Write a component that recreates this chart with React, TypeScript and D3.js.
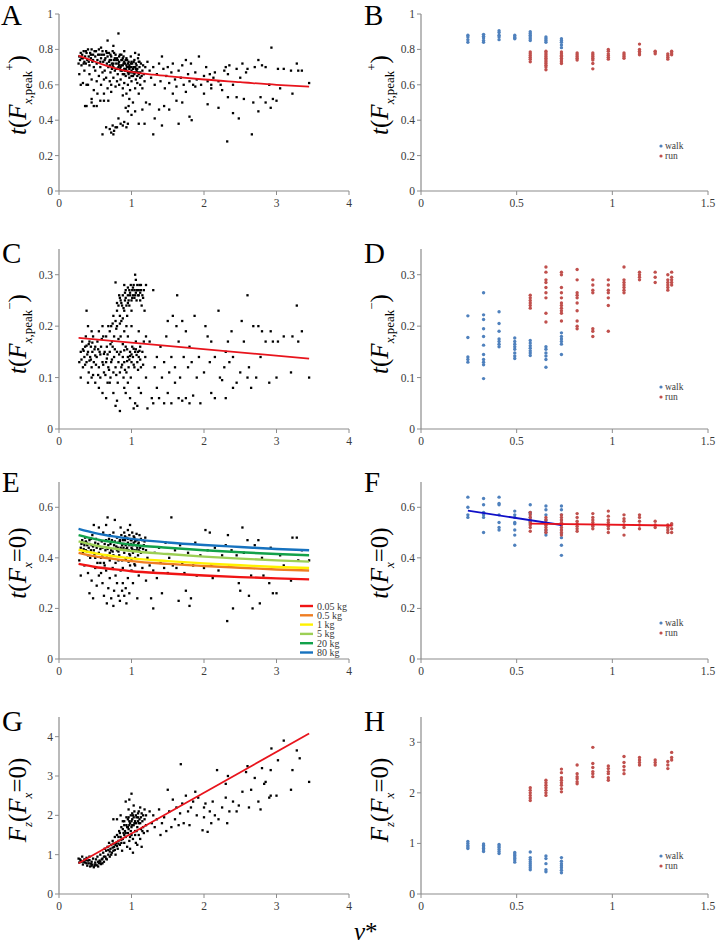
import React from "react";
import * as d3 from "d3";

const FONT = "'Liberation Serif', 'Times New Roman', serif";

const LEFT_X_TICKS = [0, 1, 2, 3, 4];
const RIGHT_X_TICKS = [0, 0.5, 1, 1.5];
const TICKS_AB = [0, 0.2, 0.4, 0.6, 0.8, 1];
const TICKS_CD = [0, 0.1, 0.2, 0.3];
const TICKS_EF = [0, 0.2, 0.4, 0.6];
const TICKS_G = [0, 1, 2, 3, 4];
const TICKS_H = [0, 1, 2, 3];

const WALK_SPEEDS = [0.245, 0.327, 0.408, 0.49, 0.571, 0.653, 0.734];
const RUN_SPEEDS = [0.571, 0.653, 0.734, 0.816, 0.898, 0.979, 1.061, 1.142, 1.224, 1.29, 1.31];

// ---- panel A points (x, y pairs)
const A_PTS = [
0.27,0.72,0.28,0.76,0.29,0.74,0.3,0.78,0.31,0.71,0.32,0.77,0.33,0.75,0.34,0.79,0.35,0.73,0.36,0.76,0.37,0.72,0.38,0.78,0.39,0.74,0.4,0.8,0.41,0.76,0.42,0.71,0.43,0.78,0.44,0.75,0.45,0.8,0.46,0.73,0.47,0.77,0.48,0.7,0.5,0.76,0.51,0.79,0.52,0.72,0.53,0.74,0.55,0.8,0.56,0.77,0.57,0.7,0.58,0.75,0.6,0.79,0.61,0.73,0.62,0.77,0.63,0.68,0.64,0.75,0.65,0.79,0.66,0.72,0.67,0.76,0.68,0.7,0.69,0.78,0.7,0.74,0.71,0.67,0.72,0.76,0.73,0.72,0.74,0.79,0.75,0.7,0.76,0.74,0.77,0.68,0.78,0.77,0.79,0.72,0.8,0.75,0.81,0.66,0.82,0.7,0.83,0.73,0.84,0.77,0.85,0.68,0.86,0.71,0.87,0.74,0.88,0.66,0.89,0.76,0.9,0.69,0.91,0.72,0.92,0.65,0.93,0.75,0.94,0.7,0.95,0.67,0.96,0.73,0.97,0.64,0.98,0.7,0.99,0.76,1.0,0.68,1.01,0.72,1.02,0.65,1.03,0.7,1.04,0.74,1.05,0.67,1.06,0.63,1.07,0.71,1.08,0.69,1.09,0.75,1.1,0.66,1.11,0.7,1.12,0.64,1.13,0.72,1.15,0.68,1.17,0.66,1.19,0.7,
0.72,0.74,0.74,0.71,0.77,0.75,0.8,0.69,0.83,0.76,0.86,0.74,0.88,0.71,0.9,0.73,0.92,0.69,0.94,0.74,0.96,0.7,0.98,0.67,1.0,0.73,1.02,0.69,1.04,0.66,1.06,0.72,1.08,0.65,1.1,0.73,0.82,0.72,0.85,0.7,0.87,0.68,0.9,0.66,0.93,0.68,0.95,0.72,0.97,0.69,1.0,0.65,1.03,0.67,1.05,0.7,1.07,0.68,1.12,0.67,
0.31,0.75,0.34,0.72,0.37,0.79,0.41,0.73,0.44,0.77,0.47,0.74,0.49,0.79,0.54,0.77,0.57,0.73,0.59,0.77,0.63,0.74,0.66,0.78,0.69,0.73,0.71,0.77,0.73,0.69,0.76,0.78,0.79,0.69,0.81,0.74,0.84,0.69,0.86,0.77,0.89,0.72,0.91,0.68,0.93,0.71,0.96,0.66,0.99,0.72,1.01,0.67,1.03,0.73,1.06,0.69,1.09,0.67,1.11,0.73,1.14,0.65,1.16,0.71,0.88,0.75,0.92,0.74,0.97,0.71,1.0,0.7,0.83,0.71,0.79,0.74,0.75,0.72,0.7,0.71,
0.28,0.66,0.3,0.6,0.35,0.68,0.4,0.6,0.42,0.66,0.45,0.63,0.5,0.68,0.52,0.62,0.55,0.65,0.58,0.6,0.6,0.67,0.62,0.63,0.65,0.64,0.67,0.58,0.7,0.62,0.72,0.6,0.75,0.64,0.78,0.59,0.8,0.62,0.83,0.6,0.85,0.63,0.88,0.58,0.9,0.61,0.93,0.55,0.95,0.6,0.98,0.57,1.0,0.62,1.02,0.5,1.05,0.58,1.08,0.61,1.1,0.55,1.12,0.6,1.15,0.58,1.18,0.62,0.48,0.57,0.53,0.55,0.57,0.51,0.62,0.55,0.68,0.51,0.72,0.56,0.38,0.48,0.45,0.52,0.52,0.48,0.88,0.54,0.92,0.47,0.95,0.45,0.97,0.52,1.0,0.43,1.05,0.45,0.96,0.48,
0.6,0.32,0.65,0.36,0.7,0.35,0.72,0.33,0.74,0.37,0.76,0.34,0.78,0.36,0.82,0.41,0.85,0.38,0.88,0.37,0.9,0.39,0.93,0.36,0.95,0.38,0.75,0.32,0.8,0.36,
0.82,0.89,0.67,0.85,0.75,0.82,0.58,0.81,0.9,0.79,1.05,0.78,1.1,0.77,
1.22,0.73,1.25,0.68,1.27,0.64,1.3,0.7,1.32,0.6,1.35,0.66,1.38,0.72,1.4,0.62,1.42,0.76,1.44,0.69,1.46,0.58,1.48,0.65,1.5,0.7,1.52,0.61,1.55,0.67,1.57,0.72,1.6,0.63,1.62,0.59,1.65,0.68,1.68,0.64,1.7,0.71,1.72,0.6,1.75,0.74,1.78,0.66,1.8,0.62,1.82,0.72,1.85,0.6,1.88,0.67,1.9,0.63,1.93,0.76,1.96,0.6,2.0,0.65,2.03,0.7,2.05,0.62,2.08,0.66,2.1,0.6,2.13,0.64,2.15,0.67,2.2,0.62,2.23,0.6,2.28,0.68,2.3,0.7,2.33,0.66,2.35,0.71,2.4,0.6,2.45,0.69,2.5,0.64,2.53,0.72,2.58,0.67,2.6,0.69,2.7,0.7,2.75,0.74,2.8,0.71,2.85,0.7,2.9,0.6,2.93,0.81,3.02,0.69,3.1,0.69,3.2,0.68,3.28,0.72,3.3,0.68,3.35,0.68,3.45,0.61,
1.25,0.49,1.32,0.41,1.3,0.32,1.38,0.46,1.42,0.37,1.45,0.48,1.52,0.46,1.57,0.55,1.62,0.51,1.65,0.38,1.7,0.5,1.75,0.56,1.8,0.42,1.83,0.4,1.88,0.59,2.0,0.55,2.05,0.49,2.1,0.58,2.2,0.47,2.25,0.57,2.32,0.28,2.33,0.53,2.4,0.44,2.45,0.53,2.48,0.41,2.55,0.52,2.66,0.32,2.68,0.5,2.75,0.45,2.78,0.53,2.85,0.5,2.92,0.47,2.95,0.52,3.0,0.51,3.05,0.58,3.22,0.55,1.2,0.5,1.15,0.46,1.1,0.38,1.18,0.38,0.33,0.61,0.36,0.48,0.45,0.5,0.48,0.48,0.62,0.51,0.38,0.6
];

// ---- panel C points
const C_PTS = [
0.72,0.2,0.75,0.22,0.78,0.21,0.8,0.23,0.82,0.24,0.84,0.22,0.85,0.25,0.87,0.24,0.88,0.26,0.9,0.23,0.91,0.25,0.92,0.27,0.93,0.24,0.95,0.26,0.96,0.25,0.97,0.27,0.98,0.26,0.99,0.28,1.0,0.25,1.01,0.27,1.02,0.26,1.03,0.28,1.04,0.27,1.05,0.26,1.06,0.29,1.07,0.27,1.08,0.28,1.09,0.26,1.1,0.27,1.11,0.28,1.12,0.25,1.13,0.27,1.15,0.26,1.17,0.27,1.2,0.28,0.78,0.285,1.05,0.3,0.83,0.26,0.86,0.21,0.8,0.2,0.94,0.22,0.97,0.24,1.0,0.23,1.07,0.25,1.14,0.24,0.76,0.18,0.7,0.19,0.73,0.17,0.68,0.2,0.65,0.18,0.9,0.28,1.18,0.23,0.93,0.2,
0.98,0.265,1.02,0.275,1.04,0.255,1.06,0.265,1.08,0.27,1.1,0.26,0.95,0.245,0.92,0.255,0.89,0.235,0.86,0.245,1.13,0.28,1.01,0.255,
0.79,0.195,0.74,0.205,0.84,0.205,0.88,0.215,0.8,0.245,0.84,0.255,0.91,0.265,0.95,0.275,1.12,0.265,1.16,0.255,0.82,0.175,
0.28,0.13,0.3,0.15,0.3,0.1,0.32,0.17,0.33,0.12,0.35,0.14,0.36,0.16,0.37,0.18,0.38,0.13,0.4,0.15,0.4,0.2,0.41,0.11,0.42,0.17,0.43,0.14,0.44,0.16,0.45,0.12,0.46,0.15,0.47,0.18,0.48,0.13,0.5,0.16,0.5,0.09,0.52,0.14,0.53,0.17,0.55,0.12,0.56,0.15,0.57,0.1,0.58,0.16,0.6,0.13,0.61,0.18,0.62,0.11,0.63,0.15,0.65,0.13,0.66,0.16,0.67,0.09,0.68,0.12,0.7,0.15,0.71,0.1,0.72,0.13,0.74,0.16,0.75,0.11,0.76,0.14,0.78,0.12,0.8,0.15,0.81,0.09,0.82,0.13,0.84,0.11,0.85,0.15,0.86,0.12,0.88,0.14,0.89,0.1,0.9,0.13,0.92,0.16,0.93,0.11,0.95,0.14,0.96,0.12,0.98,0.15,0.99,0.1,1.0,0.13,1.01,0.16,1.02,0.14,1.04,0.12,1.05,0.15,1.06,0.17,1.08,0.13,1.09,0.15,1.1,0.14,1.12,0.16,1.13,0.12,1.15,0.15,1.17,0.17,1.19,0.14,1.2,0.18,0.9,0.19,0.95,0.18,1.0,0.2,0.85,0.18,1.1,0.19,0.38,0.23,0.45,0.19,0.55,0.19,0.6,0.2,
0.34,0.152,0.38,0.162,0.42,0.133,0.46,0.168,0.5,0.143,0.54,0.155,0.62,0.146,0.66,0.137,0.9,0.153,0.94,0.132,0.98,0.142,1.03,0.156,1.07,0.144,1.11,0.152,
0.31,0.135,0.33,0.155,0.36,0.125,0.39,0.145,0.41,0.165,0.44,0.135,0.47,0.105,0.49,0.155,0.51,0.125,0.54,0.105,0.57,0.145,0.59,0.175,0.61,0.125,0.64,0.105,0.67,0.145,0.69,0.115,0.71,0.165,0.73,0.135,0.77,0.155,0.79,0.105,0.83,0.145,0.87,0.125,0.91,0.115,0.94,0.155,0.97,0.135,1.0,0.145,1.03,0.125,1.06,0.155,1.09,0.115,1.12,0.135,1.16,0.125,0.88,0.165,
0.4,0.09,0.45,0.1,0.55,0.08,0.6,0.07,0.65,0.06,0.7,0.09,0.75,0.07,0.78,0.045,0.8,0.055,0.84,0.035,0.9,0.08,0.92,0.07,0.95,0.09,0.98,0.06,1.03,0.04,1.05,0.05,1.08,0.045,1.1,0.08,1.13,0.07,1.2,0.1,1.22,0.04,1.28,0.06,1.3,0.05,1.35,0.08,1.38,0.06,1.45,0.05,1.5,0.07,1.55,0.05,1.6,0.09,1.65,0.06,1.7,0.055,1.75,0.06,1.8,0.05,1.85,0.065,1.95,0.05,2.1,0.07,2.15,0.06,2.3,0.06,2.25,0.095,
1.25,0.17,1.3,0.27,1.32,0.12,1.35,0.14,1.4,0.16,1.42,0.1,1.45,0.13,1.48,0.18,1.5,0.21,1.52,0.11,1.55,0.14,1.57,0.22,1.6,0.12,1.62,0.2,1.63,0.26,1.65,0.17,1.67,0.1,1.7,0.21,1.72,0.14,1.75,0.19,1.78,0.12,1.8,0.16,1.83,0.13,1.87,0.22,1.9,0.1,1.93,0.14,2.0,0.11,2.02,0.2,2.05,0.18,2.08,0.13,2.1,0.17,2.15,0.14,2.2,0.23,2.22,0.1,2.28,0.12,2.3,0.15,2.33,0.17,2.38,0.19,2.4,0.14,2.45,0.09,2.5,0.11,2.52,0.21,2.55,0.17,2.6,0.26,2.62,0.12,2.65,0.08,2.68,0.2,2.72,0.1,2.75,0.2,2.78,0.14,2.8,0.19,2.85,0.17,2.9,0.09,2.92,0.19,2.95,0.17,3.0,0.1,3.02,0.17,3.1,0.18,3.2,0.11,3.22,0.18,3.28,0.24,3.3,0.17,3.35,0.19,3.45,0.1,2.4,0.08,2.35,0.13,2.6,0.1
];

// ---- panel E points
const E_PTS = [
0.3,0.44,0.32,0.47,0.33,0.42,0.35,0.45,0.36,0.48,0.37,0.43,0.38,0.46,0.4,0.41,0.41,0.44,0.42,0.47,0.43,0.4,0.45,0.45,0.46,0.49,0.48,0.43,0.5,0.46,0.5,0.4,0.52,0.44,0.53,0.38,0.55,0.42,0.56,0.47,0.58,0.4,0.6,0.44,0.61,0.5,0.62,0.38,0.64,0.43,0.65,0.47,0.66,0.41,0.68,0.45,0.7,0.39,0.7,0.49,0.72,0.43,0.73,0.47,0.75,0.41,0.76,0.45,0.78,0.38,0.8,0.43,0.8,0.48,0.82,0.46,0.83,0.41,0.85,0.44,0.86,0.49,0.87,0.39,0.88,0.47,0.9,0.42,0.9,0.5,0.92,0.45,0.93,0.48,0.94,0.4,0.95,0.46,0.96,0.43,0.97,0.49,0.98,0.41,0.99,0.47,1.0,0.44,1.01,0.5,1.02,0.42,1.03,0.46,1.04,0.48,1.05,0.4,1.06,0.45,1.07,0.43,1.08,0.47,1.09,0.41,1.1,0.46,1.11,0.49,1.12,0.44,1.13,0.42,1.15,0.47,1.17,0.45,1.19,0.48,1.2,0.43,0.95,0.51,0.85,0.52,0.75,0.5,0.65,0.53,0.77,0.55,0.67,0.56,0.55,0.52,0.48,0.53,0.98,0.53,
0.34,0.46,0.39,0.45,0.44,0.43,0.87,0.45,0.89,0.44,0.91,0.47,0.94,0.44,0.97,0.45,1.0,0.47,1.02,0.45,1.04,0.43,1.06,0.47,1.08,0.44,1.1,0.43,0.84,0.47,0.81,0.44,
0.31,0.455,0.34,0.435,0.37,0.465,0.39,0.425,0.42,0.455,0.44,0.475,0.47,0.445,0.49,0.415,0.51,0.475,0.54,0.455,0.57,0.435,0.59,0.465,0.63,0.455,0.67,0.435,0.69,0.475,0.71,0.455,0.74,0.425,0.77,0.465,0.79,0.445,0.82,0.425,0.84,0.465,0.86,0.435,0.89,0.455,0.91,0.485,0.93,0.435,0.95,0.475,0.97,0.415,0.99,0.455,1.01,0.435,1.03,0.485,1.05,0.465,1.07,0.495,1.09,0.455,1.11,0.425,1.13,0.475,1.16,0.435,1.18,0.465,0.92,0.395,0.96,0.385,1.0,0.39,1.04,0.375,0.82,0.39,0.7,0.42,0.6,0.41,
0.28,0.39,0.3,0.33,0.35,0.37,0.4,0.34,0.42,0.26,0.45,0.31,0.47,0.24,0.5,0.36,0.52,0.29,0.55,0.33,0.57,0.38,0.6,0.3,0.62,0.25,0.65,0.35,0.66,0.22,0.68,0.28,0.7,0.32,0.72,0.24,0.74,0.36,0.75,0.21,0.76,0.27,0.78,0.33,0.8,0.3,0.82,0.25,0.84,0.23,0.85,0.35,0.87,0.27,0.88,0.3,0.9,0.25,0.92,0.28,0.93,0.22,0.95,0.32,0.97,0.26,1.0,0.35,1.02,0.3,1.05,0.37,1.08,0.24,1.1,0.33,1.15,0.36,1.2,0.31,0.58,0.34,0.63,0.37,0.88,0.36,0.98,0.37,
1.22,0.4,1.25,0.37,1.27,0.24,1.3,0.35,1.3,0.2,1.32,0.42,1.35,0.32,1.38,0.44,1.4,0.38,1.42,0.26,1.45,0.36,1.47,0.46,1.5,0.34,1.52,0.4,1.55,0.56,1.57,0.37,1.6,0.43,1.62,0.36,1.65,0.23,1.67,0.45,1.7,0.38,1.73,0.34,1.75,0.27,1.78,0.42,1.8,0.21,1.82,0.24,1.85,0.37,1.88,0.46,1.9,0.33,1.95,0.41,2.0,0.36,2.02,0.51,2.05,0.43,2.08,0.5,2.1,0.37,2.12,0.32,2.15,0.44,2.2,0.35,2.25,0.41,2.3,0.45,2.32,0.15,2.33,0.49,2.35,0.37,2.38,0.43,2.4,0.2,2.45,0.41,2.48,0.3,2.5,0.27,2.53,0.52,2.55,0.42,2.6,0.47,2.62,0.25,2.65,0.33,2.67,0.2,2.7,0.45,2.75,0.47,2.77,0.22,2.8,0.4,2.82,0.33,2.9,0.3,2.92,0.44,2.95,0.26,3.0,0.26,3.05,0.41,3.1,0.37,3.2,0.31,3.22,0.48,3.28,0.48,3.3,0.39,3.35,0.43,3.45,0.39
];

// ---- panel G points
const G_PTS = [
0.27,0.9,0.28,0.8,0.3,0.85,0.32,0.95,0.33,0.75,0.35,0.88,0.36,0.8,0.38,0.92,0.39,0.72,0.4,0.85,0.41,0.78,0.42,0.95,0.43,0.7,0.45,0.82,0.46,0.75,0.47,0.9,0.48,0.68,0.5,0.8,0.51,0.88,0.52,0.73,0.53,0.95,0.55,0.78,0.56,0.85,0.57,1.0,0.58,0.76,0.6,0.9,0.61,1.05,0.62,0.82,0.63,1.15,0.64,0.95,0.65,1.1,0.66,0.88,0.67,1.2,0.68,1.0,0.69,1.3,0.7,0.95,0.71,1.15,0.72,1.25,0.73,1.05,0.74,1.35,0.75,1.1,0.76,1.2,0.77,1.45,0.78,1.0,0.79,1.3,0.8,1.5,0.81,1.15,0.82,1.35,0.83,1.6,0.84,1.25,0.85,1.45,0.86,1.7,0.87,1.1,0.88,1.4,0.89,1.55,0.9,1.85,0.9,1.3,0.91,1.6,0.92,1.45,0.93,1.75,0.94,1.2,0.95,1.9,0.95,1.55,0.96,1.65,0.97,1.35,0.98,1.8,0.99,2.0,1.0,1.5,1.0,1.7,1.01,1.9,1.02,1.4,1.03,1.75,1.04,2.1,1.05,1.6,1.05,1.85,1.06,1.3,1.07,1.95,1.08,1.7,1.09,2.05,1.1,1.5,1.1,1.8,1.11,1.9,1.12,2.2,1.13,1.65,1.14,1.2,1.15,1.85,1.16,2.0,1.17,1.55,1.18,2.15,1.2,1.75,1.2,2.0,0.92,2.35,0.97,2.4,1.0,2.55,0.75,1.9,0.8,1.9,0.85,2.0,1.02,1.05,0.98,1.15,1.08,1.25,1.12,1.4,
0.31,0.82,0.37,0.86,0.44,0.77,0.49,0.72,0.54,0.82,0.59,0.88,0.74,1.18,0.78,1.25,0.82,1.28,0.86,1.38,0.9,1.5,0.94,1.7,0.97,1.75,1.0,1.85,1.03,1.95,1.06,1.8,1.09,1.85,1.13,1.95,0.96,1.95,1.01,2.05,
0.29,0.88,0.34,0.82,0.38,0.78,0.42,0.86,0.45,0.72,0.5,0.75,0.54,0.7,0.57,0.82,0.6,0.78,0.62,0.95,0.65,0.9,0.68,1.12,0.7,1.08,0.72,1.0,0.75,1.28,0.77,1.12,0.8,1.22,0.82,1.45,0.84,1.55,0.86,1.3,0.88,1.65,0.9,1.75,0.92,1.55,0.93,1.95,0.95,1.7,0.97,1.85,0.99,1.6,1.01,1.75,1.02,2.0,1.04,1.8,1.06,2.0,1.07,1.6,1.09,1.95,1.1,2.1,1.12,1.8,1.14,2.05,1.16,1.7,1.18,1.9,0.96,2.15,1.03,2.25,0.88,1.85,0.98,1.45,1.05,1.5,1.15,1.6,
1.22,1.6,1.25,2.1,1.28,1.8,1.3,2.0,1.32,1.7,1.35,1.9,1.38,2.15,1.4,1.5,1.42,1.8,1.45,1.95,1.48,1.6,1.5,2.65,1.52,2.1,1.55,1.7,1.57,2.4,1.6,1.9,1.62,2.2,1.65,1.75,1.67,2.05,1.68,3.3,1.7,2.3,1.72,1.8,1.75,2.5,1.78,2.1,1.8,1.75,1.82,2.2,1.85,2.35,1.88,2.6,1.9,2.0,1.92,2.45,1.98,1.62,2.0,2.2,2.02,2.3,2.05,1.58,2.08,2.1,2.1,1.8,2.12,2.35,2.15,2.0,2.18,3.15,2.2,1.9,2.25,2.2,2.3,2.45,2.32,1.8,2.33,3.0,2.35,2.1,2.4,2.35,2.45,2.1,2.48,2.25,2.53,2.6,2.58,3.1,2.6,3.25,2.62,2.2,2.65,2.65,2.7,2.95,2.75,2.35,2.78,2.15,2.8,3.2,2.83,2.8,2.85,2.85,2.92,3.15,2.93,3.7,2.92,2.5,3.0,2.5,3.02,3.4,3.1,3.9,3.2,2.65,3.22,3.15,3.28,3.65,3.32,3.45,3.45,2.85,2.9,2.45,2.3,2.8,2.0,1.95
];

// ---- right panels: y values per speed column
const B_WALK = [[0.84,0.855,0.87,0.88],[0.84,0.85,0.865,0.875,0.885],[0.855,0.87,0.88,0.895,0.905],[0.86,0.865,0.87,0.88],[0.85,0.86,0.87,0.88,0.89,0.9],[0.84,0.85,0.86,0.87],[0.81,0.825,0.84,0.85,0.86]];
const B_RUN = [[0.73,0.745,0.755,0.765,0.775,0.785],[0.685,0.7,0.71,0.72,0.73,0.74,0.75,0.76,0.77,0.78,0.79],[0.72,0.73,0.74,0.75,0.76,0.765,0.775,0.785],[0.74,0.75,0.76,0.77,0.78],[0.69,0.72,0.74,0.75,0.76,0.77,0.78],[0.745,0.755,0.765,0.775,0.79,0.8],[0.75,0.76,0.77,0.78],[0.77,0.78,0.79,0.8,0.83],[0.775,0.785,0.79],[0.745,0.755,0.765,0.775],[0.77,0.78,0.79]];
const D_WALK = [[0.13,0.135,0.14,0.178,0.22],[0.098,0.125,0.13,0.135,0.145,0.163,0.18,0.195,0.213,0.222,0.265],[0.16,0.165,0.17,0.175,0.19,0.205,0.228],[0.137,0.142,0.148,0.155,0.16,0.165,0.17,0.177],[0.143,0.148,0.152,0.157,0.162,0.167,0.172],[0.12,0.135,0.142,0.148,0.155,0.16],[0.145,0.165,0.17,0.175,0.18,0.187]];
const D_RUN = [[0.235,0.24,0.245,0.25,0.255,0.26],[0.208,0.225,0.255,0.265,0.275,0.285,0.29,0.305,0.315],[0.21,0.225,0.23,0.235,0.24,0.245,0.255,0.265,0.275,0.3,0.305],[0.195,0.2,0.21,0.23,0.245,0.255,0.26,0.265,0.29,0.31],[0.18,0.19,0.195,0.265,0.27,0.28,0.29],[0.19,0.24,0.255,0.265,0.27,0.28,0.29],[0.265,0.27,0.275,0.28,0.285,0.29,0.315],[0.29,0.295,0.3,0.305],[0.285,0.295,0.305],[0.27,0.275,0.28,0.285,0.29,0.3],[0.28,0.285,0.29,0.295,0.305]];
const F_WALK = [[0.56,0.57,0.6,0.64],[0.5,0.56,0.57,0.58,0.61,0.635],[0.51,0.52,0.54,0.57,0.61,0.615,0.64],[0.45,0.49,0.51,0.535,0.54,0.56,0.57,0.585],[0.535,0.545,0.56,0.575,0.58,0.61],[0.49,0.5,0.51,0.53,0.55,0.57,0.59,0.605],[0.41,0.45,0.48,0.495,0.51,0.53,0.55,0.57,0.59,0.605]];
const F_RUN = [[0.505,0.52,0.53,0.54,0.55,0.56,0.57,0.58],[0.5,0.51,0.52,0.53,0.54,0.55,0.56],[0.49,0.5,0.51,0.52,0.53,0.535,0.54,0.55,0.56,0.57],[0.505,0.515,0.525,0.535,0.545,0.56,0.575],[0.515,0.525,0.53,0.54,0.55,0.56,0.575],[0.5,0.515,0.525,0.53,0.54,0.55,0.565,0.585],[0.49,0.52,0.53,0.545,0.555,0.57],[0.515,0.53,0.545,0.56,0.57],[0.52,0.53,0.545],[0.5,0.51,0.52,0.53],[0.5,0.515,0.53,0.535]];
const H_WALK = [[0.9,0.93,0.96,1.0,1.04],[0.84,0.87,0.9,0.93,0.96,0.99],[0.8,0.84,0.88,0.92,0.95,0.98],[0.63,0.67,0.7,0.73,0.76,0.79,0.82],[0.48,0.52,0.56,0.6,0.64,0.68,0.72,0.83],[0.44,0.48,0.6,0.7,0.75],[0.42,0.47,0.52,0.56,0.6,0.65,0.72]];
const H_RUN = [[1.85,1.9,1.95,2.0,2.05,2.1],[1.95,2.0,2.05,2.1,2.15,2.2,2.25],[2.02,2.08,2.15,2.2,2.25,2.3,2.4,2.47],[2.18,2.22,2.28,2.32,2.38,2.55],[2.32,2.38,2.42,2.5,2.58,2.9],[2.25,2.3,2.38,2.42,2.48,2.53],[2.38,2.45,2.52,2.6,2.72],[2.55,2.6,2.65,2.7],[2.55,2.6,2.65],[2.48,2.55,2.62],[2.65,2.7,2.8]];

// ---- fitted curves
const A_FIT = [[0.27,0.765],[0.4,0.745],[0.6,0.715],[0.8,0.69],[1.0,0.673],[1.3,0.657],[1.6,0.645],[2.0,0.63],[2.5,0.615],[3.0,0.6],[3.45,0.59]];
const C_FIT = [[0.27,0.177],[3.45,0.137]];
const E_FIT_X = [0.27,0.5,0.75,1,1.5,2,2.5,3,3.45];
const E_FIT_005 = [0.376,0.364,0.355,0.347,0.338,0.330,0.324,0.319,0.315];
const E_FIT_05 = [0.42,0.406,0.396,0.387,0.376,0.368,0.361,0.354,0.35];
const E_FIT_1 = [0.432,0.418,0.407,0.398,0.387,0.378,0.371,0.364,0.36];
const E_FIT_5 = [0.465,0.449,0.437,0.427,0.415,0.405,0.397,0.39,0.385];
const E_FIT_20 = [0.49,0.474,0.462,0.452,0.44,0.43,0.422,0.415,0.41];
const E_FIT_80 = [0.515,0.498,0.485,0.475,0.461,0.451,0.443,0.435,0.43];
const E_LABELS = ["0.05 kg", "0.5 kg", "1 kg", "5 kg", "20 kg", "80 kg"];
const E_COLORS = ["#f01414", "#ef7d22", "#fff100", "#9ccf55", "#12a14a", "#1672bf"];
const F_WALK_FIT = [[0.245,0.587],[0.734,0.53]];
const F_RUN_FIT = [[0.571,0.535],[1.31,0.528]];
const G_FIT = [[0.27,0.78],[3.45,4.08]];

const WALK_COLOR = "#4f81bd";
const RUN_COLOR = "#c0504d";
const AXIS_COLOR = "#8c8c8c";
const TEXT_COLOR = "#3a3a3a";

function pairs(flat: number[]): [number, number][] {
  const out: [number, number][] = [];
  for (let i = 0; i + 1 < flat.length; i += 2) out.push([flat[i], flat[i + 1]]);
  return out;
}

type Scale = d3.ScaleLinear<number, number>;

function Axes({ xs, ys, xTicks, yTicks }: { xs: Scale; ys: Scale; xTicks: number[]; yTicks: number[] }) {
  const [x0, x1] = xs.range();
  const [yb, yt] = ys.range();
  return (
    <g fontFamily={FONT} fontSize={11.5} fill={TEXT_COLOR}>
      <line x1={x0} x2={x1} y1={yb} y2={yb} stroke={AXIS_COLOR} strokeWidth={1.2} />
      <line x1={x0} x2={x0} y1={yb} y2={yt} stroke={AXIS_COLOR} strokeWidth={1.2} />
      {xTicks.map((t) => (
        <g key={"x" + t}>
          <line x1={xs(t)} x2={xs(t)} y1={yb} y2={yb + 4} stroke={AXIS_COLOR} />
          <text x={xs(t)} y={yb + 16} textAnchor="middle">{String(t)}</text>
        </g>
      ))}
      {yTicks.map((t) => (
        <g key={"y" + t}>
          <line x1={x0 - 4} x2={x0} y1={ys(t)} y2={ys(t)} stroke={AXIS_COLOR} />
          <text x={x0 - 6} y={ys(t) + 4} textAnchor="end">{String(t)}</text>
        </g>
      ))}
    </g>
  );
}

function Dots({ xs, ys, pts }: { xs: Scale; ys: Scale; pts: [number, number][] }) {
  return (
    <g fill="#000">
      {pts.map((p, i) => (
        <rect key={i} x={xs(p[0]) - 1.15} y={ys(p[1]) - 1.15} width={2.3} height={2.3} />
      ))}
    </g>
  );
}

function Columns({ xs, ys, speeds, cols, color }: { xs: Scale; ys: Scale; speeds: number[]; cols: number[][]; color: string }) {
  return (
    <g fill={color}>
      {cols.map((col, i) =>
        col.map((v, j) => <circle key={i + "-" + j} cx={xs(speeds[i])} cy={ys(v)} r={1.7} />)
      )}
    </g>
  );
}

function FitLine({ xs, ys, pts, color, width = 2 }: { xs: Scale; ys: Scale; pts: number[][]; color: string; width?: number }) {
  const gen = d3
    .line<number[]>()
    .x((d) => xs(d[0]))
    .y((d) => ys(d[1]))
    .curve(d3.curveMonotoneX);
  return <path d={gen(pts) || ""} fill="none" stroke={color} strokeWidth={width} />;
}

function GaitLegend({ x, y }: { x: number; y: number }) {
  return (
    <g fontFamily={FONT} fontSize={9.5} fill={TEXT_COLOR}>
      <circle cx={x} cy={y} r={1.6} fill={WALK_COLOR} />
      <text x={x + 4} y={y + 3}>walk</text>
      <circle cx={x} cy={y + 10} r={1.6} fill={RUN_COLOR} />
      <text x={x + 4} y={y + 13}>run</text>
    </g>
  );
}

function PanelLetter({ x, y, t }: { x: number; y: number; t: string }) {
  return (
    <text x={x} y={y} fontFamily={FONT} fontSize={29} fill="#000">{t}</text>
  );
}

function YTitle({ x, y, kind }: { x: number; y: number; kind: "peakPlus" | "peakMinus" | "tzero" | "fz" }) {
  const common = { fontFamily: FONT, fontSize: 25, fill: "#000", textAnchor: "middle" as const };
  let content: React.ReactNode = null;
  if (kind === "peakPlus" || kind === "peakMinus") {
    content = (
      <>
        <tspan fontStyle="italic">t</tspan>
        <tspan>(</tspan>
        <tspan fontStyle="italic">F</tspan>
        <tspan fontSize={13} dy={6} fontStyle="italic">x</tspan>
        <tspan fontSize={13}>,peak</tspan>
        <tspan fontSize={13} dy={-18}>{kind === "peakPlus" ? "+" : "\u2212"}</tspan>
        <tspan dy={12}>)</tspan>
      </>
    );
  } else if (kind === "tzero") {
    content = (
      <>
        <tspan fontStyle="italic">t</tspan>
        <tspan>(</tspan>
        <tspan fontStyle="italic">F</tspan>
        <tspan fontSize={13} dy={6} fontStyle="italic">x</tspan>
        <tspan dy={-6}>=0)</tspan>
      </>
    );
  } else {
    content = (
      <>
        <tspan fontStyle="italic">F</tspan>
        <tspan fontSize={13} dy={6} fontStyle="italic">z</tspan>
        <tspan dy={-6}>(</tspan>
        <tspan fontStyle="italic">F</tspan>
        <tspan fontSize={13} dy={6} fontStyle="italic">x</tspan>
        <tspan dy={-6}>=0)</tspan>
      </>
    );
  }
  return (
    <text transform={`translate(${x},${y}) rotate(-90)`} {...common}>
      {content}
    </text>
  );
}

export default function App() {
  const W = 716;
  const H = 944;
  const xL = d3.scaleLinear().domain([0, 4]).range([59, 349]);
  const xR = d3.scaleLinear().domain([0, 1.5]).range([421, 708]);
  const yAB = d3.scaleLinear().domain([0, 1]).range([191, 14]);
  const yCD = d3.scaleLinear().domain([0, 0.35]).range([429, 249]);
  const yEF = d3.scaleLinear().domain([0, 0.7]).range([659, 482]);
  const yG = d3.scaleLinear().domain([0, 4.5]).range([894, 717]);
  const yH = d3.scaleLinear().domain([0, 3.5]).range([894, 717]);

  const eFits = [E_FIT_005, E_FIT_05, E_FIT_1, E_FIT_5, E_FIT_20, E_FIT_80];

  return (
    <svg width={W} height={H} viewBox={`0 0 ${W} ${H}`} style={{ position: "absolute", left: 0, top: 0, background: "#fff" }}>
      <rect width={W} height={H} fill="#fff" />

      {/* A */}
      <PanelLetter x={1} y={25} t="A" />
      <YTitle x={26} y={95} kind="peakPlus" />
      <Axes xs={xL} ys={yAB} xTicks={LEFT_X_TICKS} yTicks={TICKS_AB} />
      <Dots xs={xL} ys={yAB} pts={pairs(A_PTS)} />
      <FitLine xs={xL} ys={yAB} pts={A_FIT} color="#e8141c" width={1.8} />

      {/* B */}
      <PanelLetter x={364} y={25} t="B" />
      <YTitle x={388} y={95} kind="peakPlus" />
      <Axes xs={xR} ys={yAB} xTicks={RIGHT_X_TICKS} yTicks={TICKS_AB} />
      <Columns xs={xR} ys={yAB} speeds={WALK_SPEEDS} cols={B_WALK} color={WALK_COLOR} />
      <Columns xs={xR} ys={yAB} speeds={RUN_SPEEDS} cols={B_RUN} color={RUN_COLOR} />
      <GaitLegend x={661} y={146} />

      {/* C */}
      <PanelLetter x={2} y={263} t="C" />
      <YTitle x={26} y={334} kind="peakMinus" />
      <Axes xs={xL} ys={yCD} xTicks={LEFT_X_TICKS} yTicks={TICKS_CD} />
      <Dots xs={xL} ys={yCD} pts={pairs(C_PTS)} />
      <FitLine xs={xL} ys={yCD} pts={C_FIT} color="#e8141c" width={1.8} />

      {/* D */}
      <PanelLetter x={364} y={263} t="D" />
      <YTitle x={388} y={334} kind="peakMinus" />
      <Axes xs={xR} ys={yCD} xTicks={RIGHT_X_TICKS} yTicks={TICKS_CD} />
      <Columns xs={xR} ys={yCD} speeds={WALK_SPEEDS} cols={D_WALK} color={WALK_COLOR} />
      <Columns xs={xR} ys={yCD} speeds={RUN_SPEEDS} cols={D_RUN} color={RUN_COLOR} />
      <GaitLegend x={661} y={387} />

      {/* E */}
      <PanelLetter x={2} y={492} t="E" />
      <YTitle x={26} y={563} kind="tzero" />
      <Axes xs={xL} ys={yEF} xTicks={LEFT_X_TICKS} yTicks={TICKS_EF} />
      <Dots xs={xL} ys={yEF} pts={pairs(E_PTS)} />
      {eFits.map((f, i) => (
        <FitLine key={i} xs={xL} ys={yEF} pts={E_FIT_X.map((x, k) => [x, f[k]])} color={E_COLORS[i]} width={2.4} />
      ))}
      <g fontFamily={FONT} fontSize={10} fill={TEXT_COLOR}>
        {E_LABELS.map((lab, i) => (
          <g key={lab}>
            <line x1={300} x2={313} y1={606 + i * 9.3} y2={606 + i * 9.3} stroke={E_COLORS[i]} strokeWidth={2.4} />
            <text x={317} y={609.5 + i * 9.3}>{lab}</text>
          </g>
        ))}
      </g>

      {/* F */}
      <PanelLetter x={364} y={492} t="F" />
      <YTitle x={388} y={563} kind="tzero" />
      <Axes xs={xR} ys={yEF} xTicks={RIGHT_X_TICKS} yTicks={TICKS_EF} />
      <Columns xs={xR} ys={yEF} speeds={WALK_SPEEDS} cols={F_WALK} color={WALK_COLOR} />
      <Columns xs={xR} ys={yEF} speeds={RUN_SPEEDS} cols={F_RUN} color={RUN_COLOR} />
      <FitLine xs={xR} ys={yEF} pts={F_WALK_FIT} color="#1010c8" width={1.8} />
      <FitLine xs={xR} ys={yEF} pts={F_RUN_FIT} color="#e8141c" width={1.8} />
      <GaitLegend x={661} y={623} />

      {/* G */}
      <PanelLetter x={2} y={731} t="G" />
      <YTitle x={26} y={800} kind="fz" />
      <Axes xs={xL} ys={yG} xTicks={LEFT_X_TICKS} yTicks={TICKS_G} />
      <Dots xs={xL} ys={yG} pts={pairs(G_PTS)} />
      <FitLine xs={xL} ys={yG} pts={G_FIT} color="#e8141c" width={1.8} />

      {/* H */}
      <PanelLetter x={364} y={731} t="H" />
      <YTitle x={388} y={800} kind="fz" />
      <Axes xs={xR} ys={yH} xTicks={RIGHT_X_TICKS} yTicks={TICKS_H} />
      <Columns xs={xR} ys={yH} speeds={WALK_SPEEDS} cols={H_WALK} color={WALK_COLOR} />
      <Columns xs={xR} ys={yH} speeds={RUN_SPEEDS} cols={H_RUN} color={RUN_COLOR} />
      <GaitLegend x={661} y={856} />

      {/* shared x title */}
      <text x={354} y={940} fontFamily={FONT} fontSize={25} fill="#000">
        <tspan fontStyle="italic">v</tspan>
        <tspan>*</tspan>
      </text>
    </svg>
  );
}
